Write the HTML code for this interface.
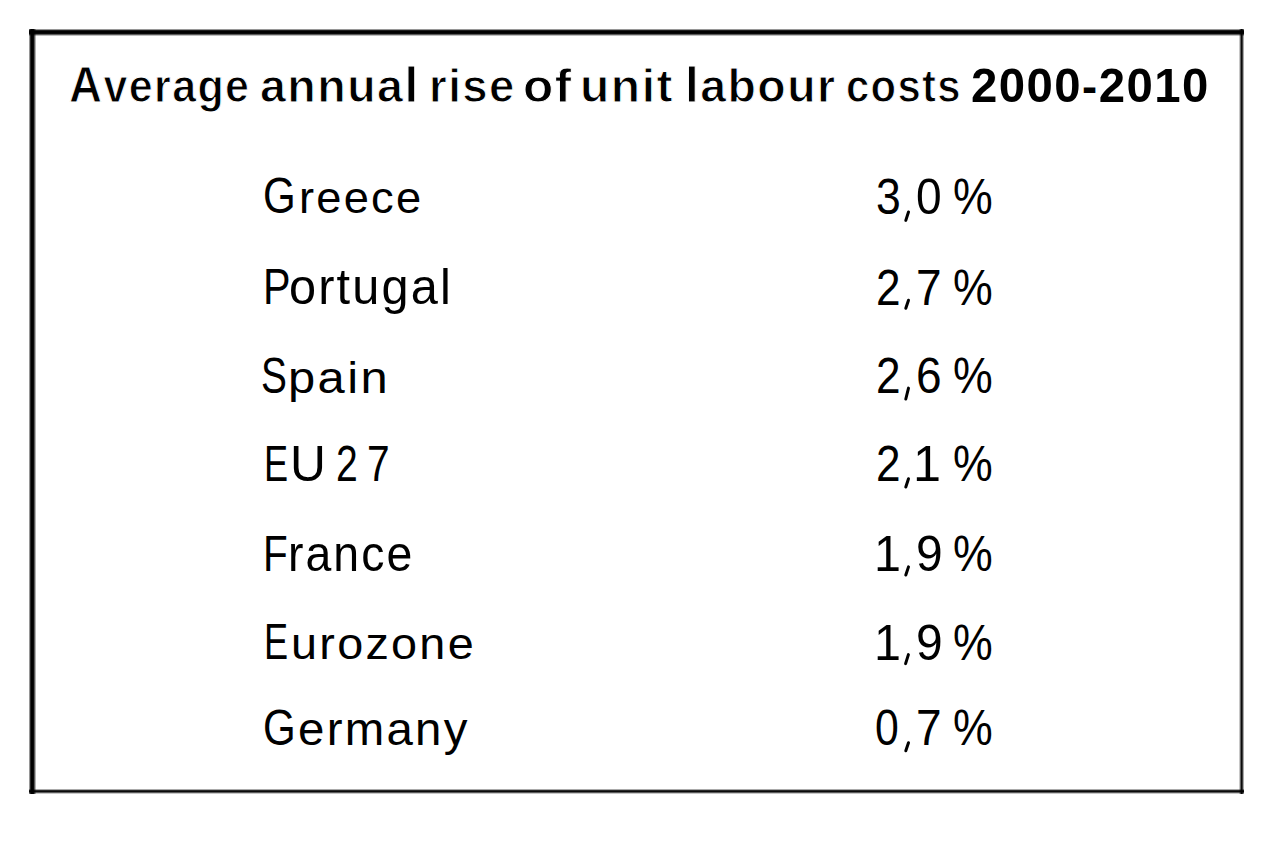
<!DOCTYPE html>
<html><head><meta charset="utf-8"><title>Average annual rise of unit labour costs 2000-2010</title>
<style>
html,body{margin:0;padding:0;background:#fff;}
body{width:1280px;height:845px;position:relative;overflow:hidden;font-family:"Liberation Sans",sans-serif;color:#000;}
#w{position:absolute;left:0;top:0;width:1280px;height:845px;}
.t{position:absolute;white-space:nowrap;line-height:60px;height:60px;transform-origin:0 0;}
.h{font-weight:bold;-webkit-text-stroke:1.0px #fff;}
.s0{-webkit-text-stroke:0.6px #000;}
</style></head><body><div id="w">

<svg width="1280" height="845" style="position:absolute;left:0;top:0"><g shape-rendering="crispEdges">
<rect x="29" y="29" width="1215" height="1" fill-opacity="0.412"/>
<rect x="29" y="30" width="1215" height="1" fill-opacity="0.882"/>
<rect x="29" y="31" width="1215" height="1" fill-opacity="1.0"/>
<rect x="29" y="32" width="1215" height="1" fill-opacity="1.0"/>
<rect x="29" y="33" width="1215" height="1" fill-opacity="0.961"/>
<rect x="29" y="34" width="1215" height="1" fill-opacity="0.647"/>
<rect x="29" y="35" width="1215" height="1" fill-opacity="0.255"/>
<rect x="29" y="789" width="1215" height="1" fill-opacity="0.333"/>
<rect x="29" y="790" width="1215" height="1" fill-opacity="0.843"/>
<rect x="29" y="791" width="1215" height="1" fill-opacity="0.961"/>
<rect x="29" y="792" width="1215" height="1" fill-opacity="0.647"/>
<rect x="29" y="793" width="1215" height="1" fill-opacity="0.216"/>
<rect x="29" y="29" width="1" height="765" fill-opacity="0.412"/>
<rect x="30" y="29" width="1" height="765" fill-opacity="0.843"/>
<rect x="31" y="29" width="1" height="765" fill-opacity="1.0"/>
<rect x="32" y="29" width="1" height="765" fill-opacity="1.0"/>
<rect x="33" y="29" width="1" height="765" fill-opacity="0.961"/>
<rect x="34" y="29" width="1" height="765" fill-opacity="0.647"/>
<rect x="35" y="29" width="1" height="765" fill-opacity="0.294"/>
<rect x="1239" y="29" width="1" height="765" fill-opacity="0.216"/>
<rect x="1240" y="29" width="1" height="765" fill-opacity="0.608"/>
<rect x="1241" y="29" width="1" height="765" fill-opacity="0.961"/>
<rect x="1242" y="29" width="1" height="765" fill-opacity="0.765"/>
<rect x="1243" y="29" width="1" height="765" fill-opacity="0.333"/>
</g>
<line x1="908.5" y1="212.0" x2="905.8" y2="220.4" stroke="#000" stroke-width="3.0" stroke-linecap="round"/>
<line x1="908.5" y1="300.2" x2="905.8" y2="308.3" stroke="#000" stroke-width="3.0" stroke-linecap="round"/>
<line x1="908.5" y1="388.1" x2="905.8" y2="399.0" stroke="#000" stroke-width="3.0" stroke-linecap="round"/>
<line x1="908.5" y1="478.7" x2="905.8" y2="487.0" stroke="#000" stroke-width="3.0" stroke-linecap="round"/>
<line x1="908.5" y1="566.9" x2="905.8" y2="575.0" stroke="#000" stroke-width="3.0" stroke-linecap="round"/>
<line x1="908.4" y1="654.6" x2="905.6" y2="663.6" stroke="#000" stroke-width="3.0" stroke-linecap="round"/>
<line x1="908.5" y1="742.7" x2="905.8" y2="750.8" stroke="#000" stroke-width="3.0" stroke-linecap="round"/>
</svg>
<div class="t h" style="left:69.29px;top:55.11px;transform:scaleX(0.9154);font-size:47px;letter-spacing:1.5px"><span style="font-size:50px">A</span><span style="font-size:47px">verage</span></div>
<div class="t h" style="left:260.43px;top:55.11px;transform:scaleX(0.99);font-size:47px;letter-spacing:1.5px"><span style="font-size:47px">annua</span><span style="font-size:50px">l</span></div>
<div class="t h" style="left:429.35px;top:56.11px;transform:scaleX(0.9675);font-size:47px;letter-spacing:1.5px">rise</div>
<div class="t h" style="left:522.52px;top:56.11px;transform:scaleX(1.0544);font-size:47px;letter-spacing:1.5px">of</div>
<div class="t h" style="left:580.43px;top:56.11px;transform:scaleX(1.02);font-size:47px;letter-spacing:1.5px">unit</div>
<div class="t h" style="left:684.65px;top:55.11px;transform:scaleX(0.9878);font-size:47px;letter-spacing:1.5px"><span style="font-size:50px">l</span><span style="font-size:47px">abour</span></div>
<div class="t h" style="left:846.3px;top:56.11px;transform:scaleX(0.889);font-size:47px;letter-spacing:1.5px">costs</div>
<div class="t h" style="left:970.95px;top:55.11px;transform:scaleX(0.9659);font-size:47px;letter-spacing:1.5px;-webkit-text-stroke:0"><span style="font-size:49px">2000</span><span style="font-size:47px">-</span><span style="font-size:49px">2010</span></div>
<div class="t" style="left:263.02px;top:166.3px;transform:scaleX(0.8409);font-size:50px">G</div>
<div class="t" style="left:298.66px;top:168.3px;transform:scaleX(1.0056);font-size:45px;letter-spacing:2.2px">reece</div>
<div class="t" style="left:875.62px;top:166.8px;transform:scaleX(0.8911);font-size:50px">3</div>
<div class="t" style="left:915.66px;top:166.8px;transform:scaleX(0.9219);font-size:50px">0</div>
<div class="t" style="left:952.58px;top:166.8px;transform:scaleX(0.8932);font-size:50px">%</div>
<div class="t" style="left:263.39px;top:257.11px;transform:scaleX(0.8254);font-size:50px">P</div>
<div class="t" style="left:288.87px;top:257.11px;transform:scaleX(0.9735);font-size:50px;letter-spacing:2.2px"><span style="font-size:50px">ortuga</span><span style="font-size:50px">l</span></div>
<div class="t" style="left:875.68px;top:257.61px;transform:scaleX(0.8833);font-size:50px">2</div>
<div class="t" style="left:916.15px;top:257.61px;transform:scaleX(0.9208);font-size:50px">7</div>
<div class="t" style="left:952.58px;top:257.61px;transform:scaleX(0.8932);font-size:50px">%</div>
<div class="t" style="left:261.47px;top:345.71px;transform:scaleX(0.7765);font-size:50px">S</div>
<div class="t" style="left:287.86px;top:347.71px;transform:scaleX(1.0859);font-size:45px;letter-spacing:2.2px">pain</div>
<div class="t" style="left:875.68px;top:346.21px;transform:scaleX(0.8833);font-size:50px">2</div>
<div class="t" style="left:915.72px;top:346.21px;transform:scaleX(0.9206);font-size:50px">6</div>
<div class="t" style="left:952.58px;top:346.21px;transform:scaleX(0.8932);font-size:50px">%</div>
<div class="t" style="left:263.75px;top:433.71px;transform:scaleX(0.7226);font-size:50px">E</div>
<div class="t" style="left:289.74px;top:433.71px;transform:scaleX(0.9937);font-size:50px">U</div>
<div class="t" style="left:335.7px;top:433.71px;transform:scaleX(0.7826);font-size:50px">2</div>
<div class="t" style="left:366.95px;top:433.71px;transform:scaleX(0.8141);font-size:50px">7</div>
<div class="t" style="left:875.68px;top:434.21px;transform:scaleX(0.8833);font-size:50px">2</div>
<div class="t" style="left:913.48px;top:434.21px;transform:scaleX(1.0065);font-size:50px">1</div>
<div class="t" style="left:952.58px;top:434.21px;transform:scaleX(0.8932);font-size:50px">%</div>
<div class="t" style="left:263.49px;top:523.96px;transform:scaleX(0.8091);font-size:50px">F</div>
<div class="t" style="left:288.2px;top:523.96px;transform:scaleX(0.9278);font-size:50px;letter-spacing:2.2px">rance</div>
<div class="t" style="left:873.54px;top:524.46px;transform:scaleX(0.9694);font-size:50px">1</div>
<div class="t" style="left:915.66px;top:524.46px;transform:scaleX(0.9585);font-size:50px">9</div>
<div class="t" style="left:952.58px;top:524.46px;transform:scaleX(0.8932);font-size:50px">%</div>
<div class="t" style="left:263.75px;top:612.3px;transform:scaleX(0.7226);font-size:50px">E</div>
<div class="t" style="left:290.87px;top:614.3px;transform:scaleX(1.0389);font-size:45px;letter-spacing:2.2px">urozone</div>
<div class="t" style="left:873.54px;top:612.8px;transform:scaleX(0.9694);font-size:50px">1</div>
<div class="t" style="left:915.66px;top:612.8px;transform:scaleX(0.9585);font-size:50px">9</div>
<div class="t" style="left:952.58px;top:612.8px;transform:scaleX(0.8932);font-size:50px">%</div>
<div class="t" style="left:263.02px;top:697.8px;transform:scaleX(0.8409);font-size:50px">G</div>
<div class="t" style="left:297.99px;top:698.8px;transform:scaleX(1.0306);font-size:46px;letter-spacing:2.2px">ermany</div>
<div class="t" style="left:875.46px;top:698.3px;transform:scaleX(0.8554);font-size:50px">0</div>
<div class="t" style="left:916.15px;top:698.3px;transform:scaleX(0.9208);font-size:50px">7</div>
<div class="t" style="left:952.58px;top:698.3px;transform:scaleX(0.8932);font-size:50px">%</div>
</div></body></html>
